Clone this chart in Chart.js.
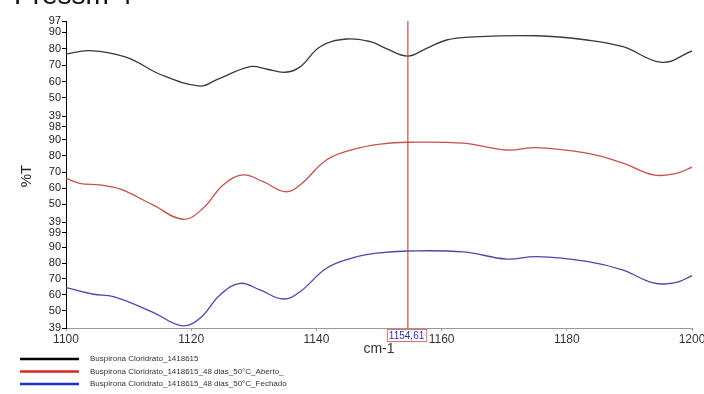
<!DOCTYPE html>
<html>
<head>
<meta charset="utf-8">
<script src="https://cdn.jsdelivr.net/npm/chart.js@4.4.1/dist/chart.umd.min.js"></script>
<style>
  body { margin: 0; background: #fff; }
  #wrap { position: relative; width: 704px; height: 394px; overflow: hidden; }
  #head { position: absolute; left: 14px; top: -21px; font: 28px "Liberation Sans", Arial, sans-serif; color: #111; }
</style>
</head>
<body>
<div id="wrap">
  <div id="head">Pressm 4</div>
  <canvas id="chart" width="704" height="394"></canvas>
</div>
<script>
// Spectrum data (cm-1, %T)
const seriesNames = [
    'Buspirona Cloridrato_1418615',
    'Buspirona Cloridrato_1418615_48 dias_50°C_Aberto_',
    'Buspirona Cloridrato_1418615_48 dias_50°C_Fechado'
];

const blackX = [1100, 1103.8, 1109.7, 1115, 1121.4, 1124, 1129.4, 1132, 1135, 1137.4, 1140.6, 1144.8, 1148.6, 1151, 1154.6, 1157.6, 1160.8, 1164.5, 1175.2, 1183.2, 1189, 1195.2, 1200];
const blackY = [76.8, 78.9, 74.8, 64.5, 57.3, 61, 69.1, 67.7, 65.7, 69, 81.3, 86, 84.4, 80.5, 75.6, 80.3, 85.4, 87.2, 88, 85.4, 81.3, 71.8, 78.7];

const redX = [1100, 1102.2, 1105.4, 1108.6, 1113.9, 1118.7, 1121.9, 1125.1, 1128.3, 1131.5, 1135, 1137.4, 1141.6, 1145.9, 1150.2, 1154.6, 1163.5, 1170.4, 1175.2, 1183.2, 1189, 1193.8, 1197.5, 1200];
const redY = [66.1, 63, 62, 59.5, 49.6, 40.7, 47.5, 62, 68.2, 64, 57.8, 62, 77.5, 84.1, 87.4, 88.5, 87.9, 83.7, 85.2, 81.7, 75.5, 68.2, 69.2, 73];

const blueX = [1100, 1104.4, 1107.6, 1113.9, 1118.5, 1121.4, 1124.6, 1127.8, 1131, 1134.7, 1137.4, 1141.6, 1145.9, 1149.6, 1154.6, 1163.5, 1170.4, 1175.2, 1183.2, 1189, 1193.8, 1197.5, 1200];
const blueY = [64.5, 60.3, 58.8, 48.9, 40.4, 45.1, 59.8, 67.2, 63, 57.3, 61.9, 76.7, 83.4, 86.2, 87.6, 87, 82.5, 84, 81, 75.5, 67.5, 67.8, 72];

const xTicks = [1100, 1120, 1140, 1160, 1180, 1200];
const yTicksTop = [39, 50, 60, 70, 80, 90, 97];
const yTicksMid = [39, 50, 60, 70, 80, 90, 98];
const yTicksBot = [39, 50, 60, 70, 80, 90, 99];
const cursorX = 1154.61;

const lineColors = ['#3a3a3a', '#c9504c', '#4a4aa6'];
const legendColors = ['#000000', '#d42424', '#1f2fc8'];

function toPoints(xs, ys) {
    return xs.map((x, i) => ({ x: x, y: ys[i] }));
}

function yAxis(ticks, top, weight) {
    return {
        type: 'linear',
        position: 'left',
        stack: 'spec',
        stackWeight: weight,
        min: 39,
        max: top,
        afterBuildTicks: function (axis) {
            axis.ticks = ticks.map(v => ({ value: v }));
        },
        afterFit: function (axis) {
            axis.width = 46;
        },
        border: { color: '#000', width: 1 },
        grid: { drawOnChartArea: false, drawTicks: true, tickLength: 4, color: '#000' },
        ticks: {
            autoSkip: false, color: '#222', padding: 1,
            font: { family: 'Liberation Sans', size: 11 },
            callback: v => String(v)
        }
    };
}

// cursor line + its label box
const cursorPlugin = {
    id: 'cursor',
    afterDatasetsDraw(chart) {
        const ctx = chart.ctx;
        const a = chart.chartArea;
        const px = chart.scales.x.getPixelForValue(cursorX);
        ctx.save();
        ctx.strokeStyle = '#b9524e';
        ctx.lineWidth = 1.2;
        ctx.beginPath();
        ctx.moveTo(px, a.top);
        ctx.lineTo(px, a.bottom);
        ctx.stroke();
        const txt = cursorX.toFixed(2).replace('.', ',');
        ctx.font = '10px "Liberation Sans"';
        const w = ctx.measureText(txt).width + 4;
        ctx.fillStyle = '#fff';
        ctx.fillRect(px - 21, a.bottom + 1, w, 12);
        ctx.strokeStyle = '#e07070';
        ctx.lineWidth = 1;
        ctx.strokeRect(px - 21 + 0.5, a.bottom + 1.5, w, 12);
        ctx.fillStyle = '#3030b0';
        ctx.textBaseline = 'middle';
        ctx.fillText(txt, px - 19, a.bottom + 8);
        ctx.restore();
    }
};

// %T label and the legend at the bottom
const decorPlugin = {
    id: 'decor',
    afterDraw(chart) {
        const ctx = chart.ctx;
        ctx.save();
        ctx.fillStyle = '#222';
        ctx.font = '15px "Liberation Sans"';
        ctx.translate(27, 176);
        ctx.rotate(-Math.PI / 2);
        ctx.textAlign = 'center';
        ctx.textBaseline = 'middle';
        ctx.fillText('%T', 0, 0);
        ctx.restore();

        ctx.save();
        ctx.font = '8px "Liberation Sans"';
        ctx.textBaseline = 'middle';
        chart.data.datasets.forEach((ds, i) => {
            const y = 359 + i * 12.5;
            ctx.strokeStyle = legendColors[i];
            ctx.lineWidth = 2.5;
            ctx.beginPath();
            ctx.moveTo(20, y);
            ctx.lineTo(79, y);
            ctx.stroke();
            ctx.fillStyle = '#333';
            ctx.fillText(ds.label, 90, y);
        });
        ctx.restore();
    }
};

new Chart(document.getElementById('chart'), {
    type: 'line',
    data: {
        datasets: [
            { label: seriesNames[0], data: toPoints(blackX, blackY), yAxisID: 'yTop', borderColor: lineColors[0] },
            { label: seriesNames[1], data: toPoints(redX, redY), yAxisID: 'yMid', borderColor: lineColors[1] },
            { label: seriesNames[2], data: toPoints(blueX, blueY), yAxisID: 'yBot', borderColor: lineColors[2] }
        ]
    },
    options: {
        responsive: false,
        animation: false,
        layout: { padding: { left: 20, top: 21, right: 0, bottom: 36 } },
        elements: {
            point: { radius: 0 },
            line: { borderWidth: 1.3, tension: 0.4 }
        },
        plugins: { legend: { display: false }, tooltip: { enabled: false } },
        scales: {
            x: {
                type: 'linear',
                min: 1100,
                max: 1200,
                afterBuildTicks: function (axis) {
                    axis.ticks = xTicks.map(v => ({ value: v }));
                },
                afterFit: function (axis) {
                    axis.height = 30;
                    axis.paddingRight = 12;
                },
                border: { color: '#999', width: 1 },
                grid: { drawOnChartArea: false, tickLength: 3, color: '#999' },
                ticks: {
                    autoSkip: false, color: '#333', padding: 1, maxRotation: 0,
                    font: { family: 'Liberation Sans', size: 12 },
                    callback: v => String(v)
                },
                title: { display: true, text: 'cm-1', color: '#333', padding: 0, font: { family: 'Liberation Sans', size: 14 } }
            },
            // stacked axes: last defined is drawn on top
            yBot: yAxis(yTicksBot, 105.9, 106),
            yMid: yAxis(yTicksMid, 104.8, 106),
            yTop: yAxis(yTicksTop, 97, 95)
        }
    },
    plugins: [cursorPlugin, decorPlugin]
});
</script>
</body>
</html>
